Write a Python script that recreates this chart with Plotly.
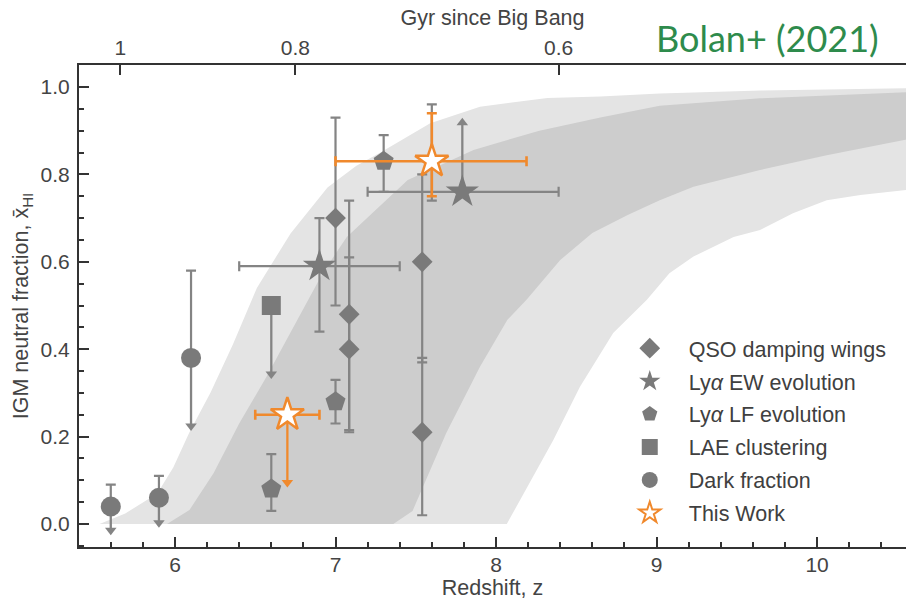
import plotly.graph_objects as go

# ---------------- data ----------------
# shaded bands (68% dark, 95% light)
light_upper_z = [5.53, 5.69, 5.89, 5.99, 6.09, 6.22, 6.36, 6.51, 6.72, 6.95, 7.13, 7.28, 7.59, 7.90, 8.32, 8.65, 9.02, 9.65, 10.55, 10.70]
light_upper_v = [0.0, 0.024, 0.07, 0.13, 0.21, 0.30, 0.41, 0.54, 0.665, 0.77, 0.82, 0.85, 0.917, 0.955, 0.975, 0.978, 0.985, 0.992, 0.997, 0.998]
light_lower_z = [8.067, 8.357, 8.523, 8.73, 8.94, 9.08, 9.23, 9.48, 9.645, 9.85, 10.06, 10.27, 10.55, 10.70]
light_lower_v = [0.0, 0.192, 0.314, 0.437, 0.513, 0.574, 0.612, 0.657, 0.673, 0.711, 0.741, 0.753, 0.764, 0.77]
dark_upper_z = [5.95, 6.09, 6.24, 6.40, 6.57, 6.72, 6.92, 7.07, 7.45, 7.86, 8.27, 8.65, 9.02, 9.645, 10.55, 10.70]
dark_upper_v = [0.0, 0.032, 0.116, 0.23, 0.337, 0.44, 0.574, 0.657, 0.787, 0.856, 0.90, 0.93, 0.957, 0.974, 0.989, 0.99]
dark_lower_z = [7.36, 7.48, 7.69, 7.90, 8.07, 8.19, 8.40, 8.60, 8.82, 9.02, 9.23, 9.645, 10.06, 10.55, 10.70]
dark_lower_v = [0.0, 0.03, 0.208, 0.36, 0.467, 0.513, 0.604, 0.666, 0.707, 0.741, 0.772, 0.81, 0.844, 0.879, 0.885]

# QSO damping wings
qso_z = [7.00, 7.085, 7.085, 7.54, 7.54]
qso_x = [0.70, 0.48, 0.40, 0.60, 0.21]
qso_up = [0.23, 0.26, 0.21, 0.20, 0.17]
qso_dn = [0.20, 0.265, 0.19, 0.23, 0.19]

# Lya EW evolution
ew_z = [6.9, 7.6, 7.79]
ew_x = [0.59, 0.83, 0.76]
ew_up = [0.11, 0.13, 0.0]
ew_dn = [0.15, 0.09, 0.0]
ew_zerr_p = [0.5, 0.0, 0.60]
ew_zerr_m = [0.5, 0.0, 0.59]
ew_lim_z = [7.79]
ew_lim_from = [0.76]
ew_lim_to = [0.918]

# Lya LF evolution
lf_z = [6.6, 7.0, 7.3]
lf_x = [0.08, 0.28, 0.83]
lf_up = [0.08, 0.05, 0.06]
lf_dn = [0.05, 0.05, 0.07]

# LAE clustering (upper limit)
lae_z = [6.6]
lae_x = [0.50]
lae_lim_to = [0.343]

# Dark fraction (upper limits)
dk_z = [5.6, 5.9, 6.1]
dk_x = [0.04, 0.06, 0.38]
dk_up = [0.05, 0.05, 0.20]
dk_lim_to = [-0.014, 0.003, 0.224]

# This Work
tw_z = [6.7, 7.6]
tw_x = [0.25, 0.83]
tw_up = [0.0, 0.11]
tw_dn = [0.0, 0.08]
tw_zerr_p = [0.2, 0.59]
tw_zerr_m = [0.2, 0.60]
tw_lim_z = [6.7]
tw_lim_from = [0.25]
tw_lim_to = [0.095]

# top axis (Gyr since Big Bang)
gyr_z = [5.66, 6.75, 8.39]
gyr_labels = ["1", "0.8", "0.6"]

legend_names = ["QSO damping wings", "Ly<i>α</i> EW evolution", "Ly<i>α</i> LF evolution",
                "LAE clustering", "Dark fraction", "This Work"]

# ---------------- style ----------------
GRAY = "#7a7a7a"
EGRAY = "#848484"
ORANGE = "#f0892c"
LIGHT = "#e4e4e4"
DARK = "#cdcdcd"
AX = "#333333"
FONT = "Arial, Liberation Sans, sans-serif"

fig = go.Figure()


def band(uz, uv, lz, lv, color):
    fig.add_trace(go.Scatter(x=uz + lz[::-1], y=uv + lv[::-1], fill="toself", fillcolor=color,
                             mode="lines", line=dict(width=0), hoverinfo="skip", showlegend=False))


band(light_upper_z, light_upper_v, light_lower_z, light_lower_v, LIGHT)
band(dark_upper_z, dark_upper_v, dark_lower_z, dark_lower_v, DARK)


def arrows(zs, froms, tos, color, symbol):
    xs, ys = [], []
    for z, a, b in zip(zs, froms, tos):
        xs += [z, z, None]
        ys += [a, b, None]
    fig.add_trace(go.Scatter(x=xs, y=ys, mode="lines", line=dict(color=color, width=2.3),
                             hoverinfo="skip", showlegend=False))
    fig.add_trace(go.Scatter(x=zs, y=tos, mode="markers",
                             marker=dict(symbol=symbol, size=10, color=color, line=dict(width=0)),
                             hoverinfo="skip", showlegend=False))


def ey(up, dn, color=EGRAY, th=2.2):
    return dict(type="data", symmetric=False, array=up, arrayminus=dn, color=color, thickness=th, width=5)


# arrows (gray)
arrows(dk_z, dk_x, dk_lim_to, EGRAY, "triangle-down")
arrows(lae_z, lae_x, lae_lim_to, EGRAY, "triangle-down")
arrows(ew_lim_z, ew_lim_from, ew_lim_to, EGRAY, "triangle-up")

# Dark fraction
fig.add_trace(go.Scatter(x=dk_z, y=dk_x, mode="markers", error_y=ey(dk_up, [0] * len(dk_up)),
                         marker=dict(symbol="circle", size=20, color=GRAY), showlegend=False))
# LAE
fig.add_trace(go.Scatter(x=lae_z, y=lae_x, mode="markers",
                         marker=dict(symbol="square", size=19, color=GRAY), showlegend=False))
# LF
fig.add_trace(go.Scatter(x=lf_z, y=lf_x, mode="markers", error_y=ey(lf_up, lf_dn),
                         marker=dict(symbol="pentagon", size=21, color=GRAY), showlegend=False))
# QSO
fig.add_trace(go.Scatter(x=qso_z, y=qso_x, mode="markers", error_y=ey(qso_up, qso_dn),
                         marker=dict(symbol="diamond", size=16, color=GRAY), showlegend=False))
# EW
fig.add_trace(go.Scatter(x=ew_z, y=ew_x, mode="markers", error_y=ey(ew_up, ew_dn),
                         error_x=dict(type="data", symmetric=False, array=ew_zerr_p, arrayminus=ew_zerr_m,
                                      color=EGRAY, thickness=2.2, width=5),
                         marker=dict(symbol="star", size=25, color=GRAY), showlegend=False))

# This work
arrows(tw_lim_z, tw_lim_from, tw_lim_to, ORANGE, "triangle-down")
fig.add_trace(go.Scatter(x=tw_z, y=tw_x, mode="markers", error_y=ey(tw_up, tw_dn, ORANGE, 2.6),
                         error_x=dict(type="data", symmetric=False, array=tw_zerr_p, arrayminus=tw_zerr_m,
                                      color=ORANGE, thickness=2.6, width=5),
                         marker=dict(symbol="star", size=25, color="white", line=dict(color=ORANGE, width=2.5)),
                         showlegend=False))

# legend entries
leg_syms = ["diamond", "star", "pentagon", "square", "circle", "star"]
for i, (nm, sym) in enumerate(zip(legend_names, leg_syms)):
    if i == 5:
        mk = dict(symbol=sym, size=16, color="white", line=dict(color=ORANGE, width=2))
    else:
        mk = dict(symbol=sym, size=16, color=GRAY, line=dict(width=0))
    fig.add_trace(go.Scatter(x=[None], y=[None], mode="markers", name=nm, marker=mk,
                             legendgroup=f"g{i}", showlegend=True))

# dummy for top axis
fig.add_trace(go.Scatter(x=[None], y=[None], xaxis="x2", showlegend=False, hoverinfo="skip"))

XR = [5.402, 10.554]
tickfont = dict(family=FONT, size=21, color="#444")
titlefont = dict(family=FONT, size=21.5, color="#444")
fig.update_layout(
    width=906, height=601,
    margin=dict(l=79, r=0, t=65, b=54),
    paper_bgcolor="white", plot_bgcolor="white",
    font=dict(family=FONT, color="#444"),
    xaxis=dict(range=XR, dtick=1, tick0=0, ticks="inside", ticklen=10, tickwidth=1.5, tickcolor=AX,
               ticklabelstandoff=-2,
               minor=dict(dtick=0.2, ticks="inside", ticklen=5, tickwidth=1.5, tickcolor=AX),
               showline=True, linecolor=AX, linewidth=2, showgrid=False, zeroline=False,
               tickfont=tickfont,
               title=dict(text="Redshift, z", font=titlefont, standoff=3)),
    xaxis2=dict(range=XR, overlaying="x", side="top", tickmode="array", tickvals=gyr_z, ticktext=gyr_labels,
                ticks="inside", ticklen=10, tickwidth=1.5, tickcolor=AX, showline=True, linecolor=AX,
                linewidth=2, showgrid=False, zeroline=False, tickfont=tickfont,
                title=dict(text="Gyr since Big Bang", font=titlefont, standoff=4)),
    yaxis=dict(range=[-0.0526, 1.0503], dtick=0.2, tick0=0, tickformat=".1f", ticks="inside", ticklen=10,
               tickwidth=1.5, tickcolor=AX, ticklabelstandoff=3,
               minor=dict(dtick=0.05, ticks="inside", ticklen=5, tickwidth=1.5, tickcolor=AX),
               showline=True, linecolor=AX, linewidth=2, showgrid=False, zeroline=False, tickfont=tickfont,
               title=dict(text="IGM neutral fraction, x̄<sub>HI</sub>", font=titlefont, standoff=6)),
    legend=dict(x=0.643, y=0.455, xanchor="left", yanchor="top", bgcolor="rgba(0,0,0,0)",
                font=dict(family=FONT, size=21.5, color="#404040"), tracegroupgap=2, itemwidth=68),
    annotations=[dict(text="Bolan+ (2021)", xref="paper", yref="paper", x=0.8325, y=1.055,
                      xanchor="center", yanchor="middle", showarrow=False,
                      font=dict(family="Lato, Noto Sans, sans-serif", size=36, color="#2e8b4c"))],
)

fig.write_html("out.html")
